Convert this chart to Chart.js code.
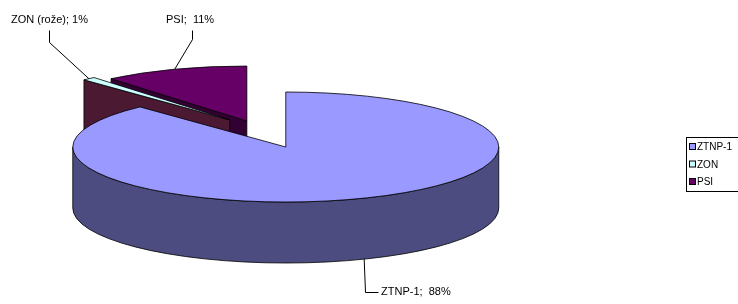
<!DOCTYPE html>
<html>
<head>
<meta charset="utf-8">
<script src="https://cdn.jsdelivr.net/npm/chart.js@4/dist/chart.umd.min.js"></script>
<style>
  html, body { margin: 0; background: #fff; }
  #wrap { width: 738px; height: 304px; }
</style>
</head>
<body>
<div id="wrap"><canvas id="chart" width="738" height="304"></canvas></div>
<script>
/* 3D exploded pie, Excel style — drawn from Chart.js arc geometry */

const categories = ["ZTNP-1", "ZON", "PSI"];
const values = [88, 1, 11];
const pointLabels = ["ZTNP-1;  88%", "ZON (rože); 1%", "PSI;  11%"];
const topColors = ["#9999FF", "#CCFFFF", "#660066"];
const sideColors = ["#4C4C80", "#4C1933", "#330033"];

// ellipse look of the tilted pie
const RX = 213, RY = 55, DEPTH = 61, CY = 127.6;
const LINE = "#000";

// where the point labels sit and how their leader lines bend
const labelLayout = [
  { x: 381, y: 292, bend: [[365, 292], [378, 292]] },
  { x: 11, y: 20, bend: [[49, 42], [49, 30]] },
  { x: 166, y: 20, bend: [[192, 39], [192, 30]] },
];

function ellArc(ctx, cx, cy, a1, a2, ccw) {
  ctx.save();
  ctx.translate(cx, cy);
  ctx.scale(RX, RY);
  ctx.arc(0, 0, 1, a1, a2, ccw);
  ctx.restore();
}

function sliceGeom(chart) {
  const arcs = chart.getDatasetMeta(0).data;
  const R = arcs[0].outerRadius;
  return arcs.map((a, i) => {
    const mid = (a.startAngle + a.endAngle) / 2;
    const off = a.options.offset || 0;
    const cy = CY + Math.sin(mid) * off * RY / R;
    return {
      i, s: a.startAngle, e: a.endAngle, mid, cy,
      cx: a.x + Math.cos(mid) * off * RX / R,
      depth: cy + 0.5 * RY * Math.sin(mid), // painter's order
    };
  });
}

function paint(ctx, fill) {
  ctx.fillStyle = fill;
  ctx.fill();
  ctx.lineWidth = 0.8;
  ctx.strokeStyle = LINE;
  ctx.stroke();
}

function radialWall(ctx, sl, a) {
  const px = sl.cx + RX * Math.cos(a), py = sl.cy + RY * Math.sin(a);
  ctx.beginPath();
  ctx.moveTo(sl.cx, sl.cy);
  ctx.lineTo(px, py);
  ctx.lineTo(px, py + DEPTH);
  ctx.lineTo(sl.cx, sl.cy + DEPTH);
  ctx.closePath();
  paint(ctx, sideColors[sl.i]);
}

const pie3d = {
  id: "pie3d",
  beforeDatasetsDraw(chart) {
    const ctx = chart.ctx;
    const slices = sliceGeom(chart).sort((a, b) => a.depth - b.depth);
    ctx.save();
    ctx.lineJoin = "round";
    slices.forEach((sl) => {
      // side faces pointing at the viewer
      if (Math.cos(sl.s) < -0.01) radialWall(ctx, sl, sl.s);
      if (Math.cos(sl.e) > 0.01) radialWall(ctx, sl, sl.e);
      for (let k = -1; k <= 1; k++) {
        const a1 = Math.max(sl.s, 2 * Math.PI * k);
        const a2 = Math.min(sl.e, 2 * Math.PI * k + Math.PI);
        if (a2 <= a1) continue;
        ctx.beginPath();
        ellArc(ctx, sl.cx, sl.cy, a1, a2, false);
        ellArc(ctx, sl.cx, sl.cy + DEPTH, a2, a1, true);
        ctx.closePath();
        paint(ctx, sideColors[sl.i]);
      }
      // top face
      ctx.beginPath();
      ctx.moveTo(sl.cx, sl.cy);
      ellArc(ctx, sl.cx, sl.cy, sl.s, sl.e, false);
      ctx.closePath();
      paint(ctx, topColors[sl.i]);
    });
    ctx.restore();
    return false;
  },
  afterDraw(chart) {
    const ctx = chart.ctx;
    const slices = sliceGeom(chart);
    ctx.save();
    ctx.font = "11px 'Liberation Sans', Arial, sans-serif";
    ctx.textBaseline = "middle";
    ctx.fillStyle = "#000";
    ctx.strokeStyle = LINE;
    ctx.lineWidth = 1;
    slices.forEach((sl) => {
      const lay = labelLayout[sl.i];
      const front = Math.sin(sl.mid) > 0;
      const ax = sl.cx + RX * Math.cos(sl.mid);
      const ay = sl.cy + RY * Math.sin(sl.mid) + (front ? DEPTH : 0);
      ctx.beginPath();
      ctx.moveTo(ax, ay);
      lay.bend.forEach(([x, y]) => ctx.lineTo(x + 0.5, y + 0.5));
      ctx.stroke();
      ctx.fillText(pointLabels[sl.i], lay.x, lay.y);
    });

    // legend box, cut by the right edge like the original
    const lx = 686, ly = 137, rowH = 17.5;
    ctx.lineWidth = 1;
    ctx.strokeRect(lx + 0.5, ly + 0.5, 70, 54);
    ctx.font = "10px 'Liberation Sans', Arial, sans-serif";
    categories.forEach((name, i) => {
      const y = ly + 10 + i * rowH;
      ctx.fillStyle = topColors[i];
      ctx.fillRect(lx + 3.5, y - 3.5, 6, 6);
      ctx.strokeRect(lx + 3.5, y - 3.5, 6, 6);
      ctx.fillStyle = "#000";
      ctx.fillText(name, lx + 11, y + 0.5);
    });
    ctx.restore();
  },
};

const chart = new Chart(document.getElementById("chart"), {
  type: "pie",
  data: {
    labels: categories,
    datasets: [{
      data: values,
      backgroundColor: topColors,
      borderWidth: 0,
      offset: [48.5, 23.8, 16.2],
    }],
  },
  options: {
    responsive: false,
    animation: false,
    layout: { padding: { left: 0, right: 226, top: 0, bottom: 0 } },
    plugins: { legend: { display: false }, tooltip: { enabled: false } },
  },
  plugins: [pie3d],
});
</script>
</body>
</html>
